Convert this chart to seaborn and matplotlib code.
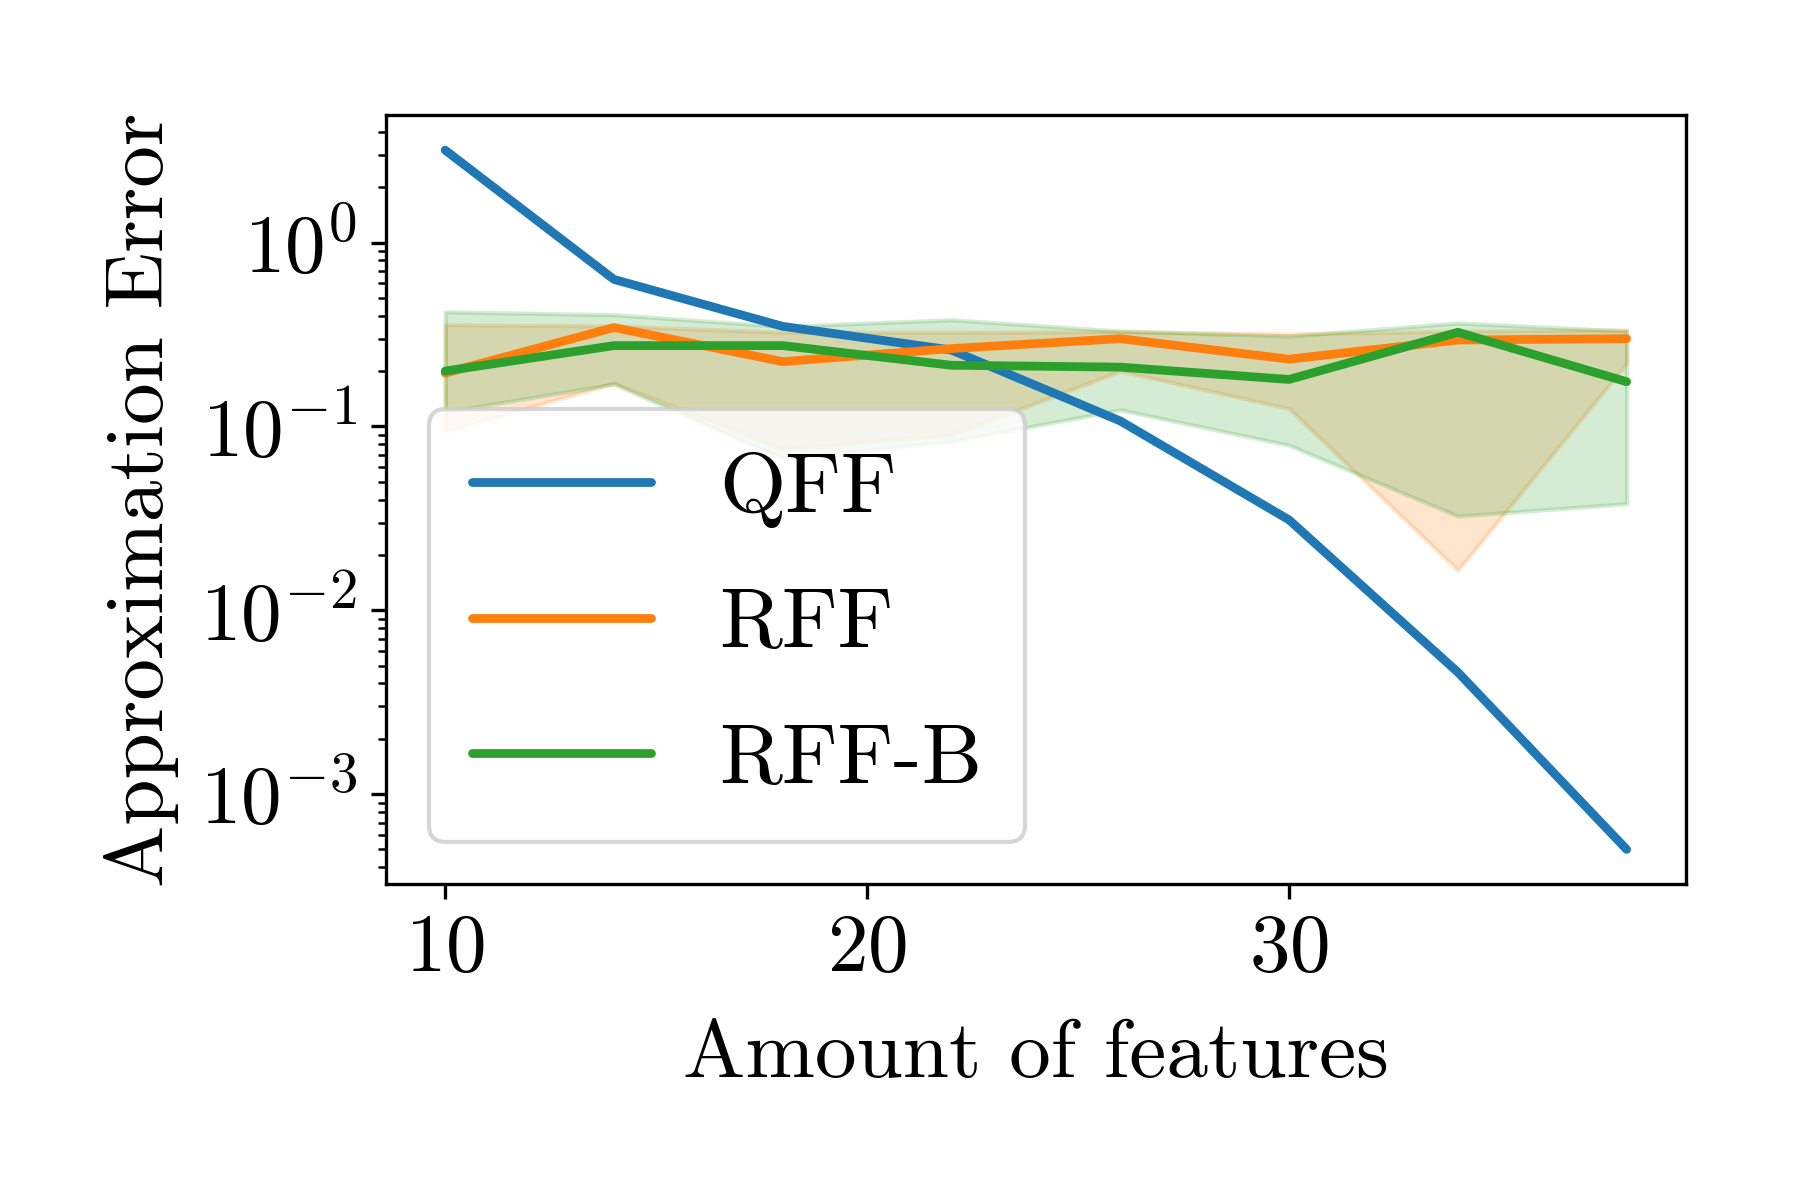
import numpy as np
import pandas as pd
import matplotlib
matplotlib.use("Agg")
import matplotlib.pyplot as plt
import seaborn as sns

features = [10, 14, 18, 22, 26, 30, 34, 38]
qff = [3.18, 0.63, 0.35, 0.26, 0.107, 0.031, 0.0046, 0.0005]
rff = [0.195, 0.345, 0.225, 0.265, 0.30, 0.232, 0.295, 0.30]
rff_lo = [0.094, 0.172, 0.075, 0.09, 0.20, 0.125, 0.0165, 0.22]
rff_hi = [0.357, 0.352, 0.325, 0.325, 0.328, 0.318, 0.33, 0.335]
rffb = [0.20, 0.275, 0.275, 0.215, 0.21, 0.18, 0.325, 0.175]
rffb_lo = [0.12, 0.17, 0.067, 0.083, 0.123, 0.079, 0.0325, 0.038]
rffb_hi = [0.42, 0.405, 0.35, 0.38, 0.33, 0.31, 0.365, 0.33]
labels = ["QFF", "RFF", "RFF-B"]

sns.set_style("ticks")
plt.rcParams["font.family"] = ["cmr10", "DejaVu Serif"]
plt.rcParams["mathtext.fontset"] = "cm"
plt.rcParams["axes.formatter.use_mathtext"] = True
plt.rcParams["axes.unicode_minus"] = False
plt.rcParams["text.color"] = "black"
plt.rcParams["axes.labelcolor"] = "black"
plt.rcParams["xtick.color"] = "black"
plt.rcParams["ytick.color"] = "black"
plt.rcParams["axes.edgecolor"] = "black"

colors = ["#1f77b4", "#ff7f0e", "#2ca02c"]

fig = plt.figure(figsize=(6, 4), dpi=300)
ax = fig.add_axes([0.2145, 0.263, 0.722, 0.641])

df = pd.DataFrame({
    "features": features * 3,
    "error": qff + rff + rffb,
    "method": [labels[0]] * 8 + [labels[1]] * 8 + [labels[2]] * 8,
})

for lab, col in zip(labels, colors):
    sub = df[df["method"] == lab]
    sns.lineplot(data=sub, x="features", y="error", color=col, lw=2.1,
                 label=lab, ax=ax, errorbar=None)

ax.fill_between(features, rff_lo, rff_hi, color=colors[1], alpha=0.2)
ax.fill_between(features, rffb_lo, rffb_hi, color=colors[2], alpha=0.2)

ax.set_yscale("log")
ax.set_xticks([10, 20, 30])
ax.tick_params(axis="both", which="major", labelsize=19.5, direction="out",
               length=3.5, width=0.8, colors="black")
ax.tick_params(axis="y", which="minor", direction="out", length=2, width=0.6,
               left=True, colors="black")
for s in ax.spines.values():
    s.set_color("black")
    s.set_linewidth(0.8)

ax.set_xlabel("Amount of features", fontsize=20, color="black", labelpad=8)
ax.set_ylabel("Approximation Error", fontsize=20, color="black", labelpad=5)
leg = ax.legend(loc="lower left", fontsize=20.5, frameon=True, framealpha=0.8,
                edgecolor="0.8", fancybox=True, labelspacing=0.70,
                borderaxespad=0.5, borderpad=0.5, handlelength=2.1,
                handletextpad=0.8)
for t in leg.get_texts():
    t.set_color("black")

fig.savefig("out.png", dpi=300)
